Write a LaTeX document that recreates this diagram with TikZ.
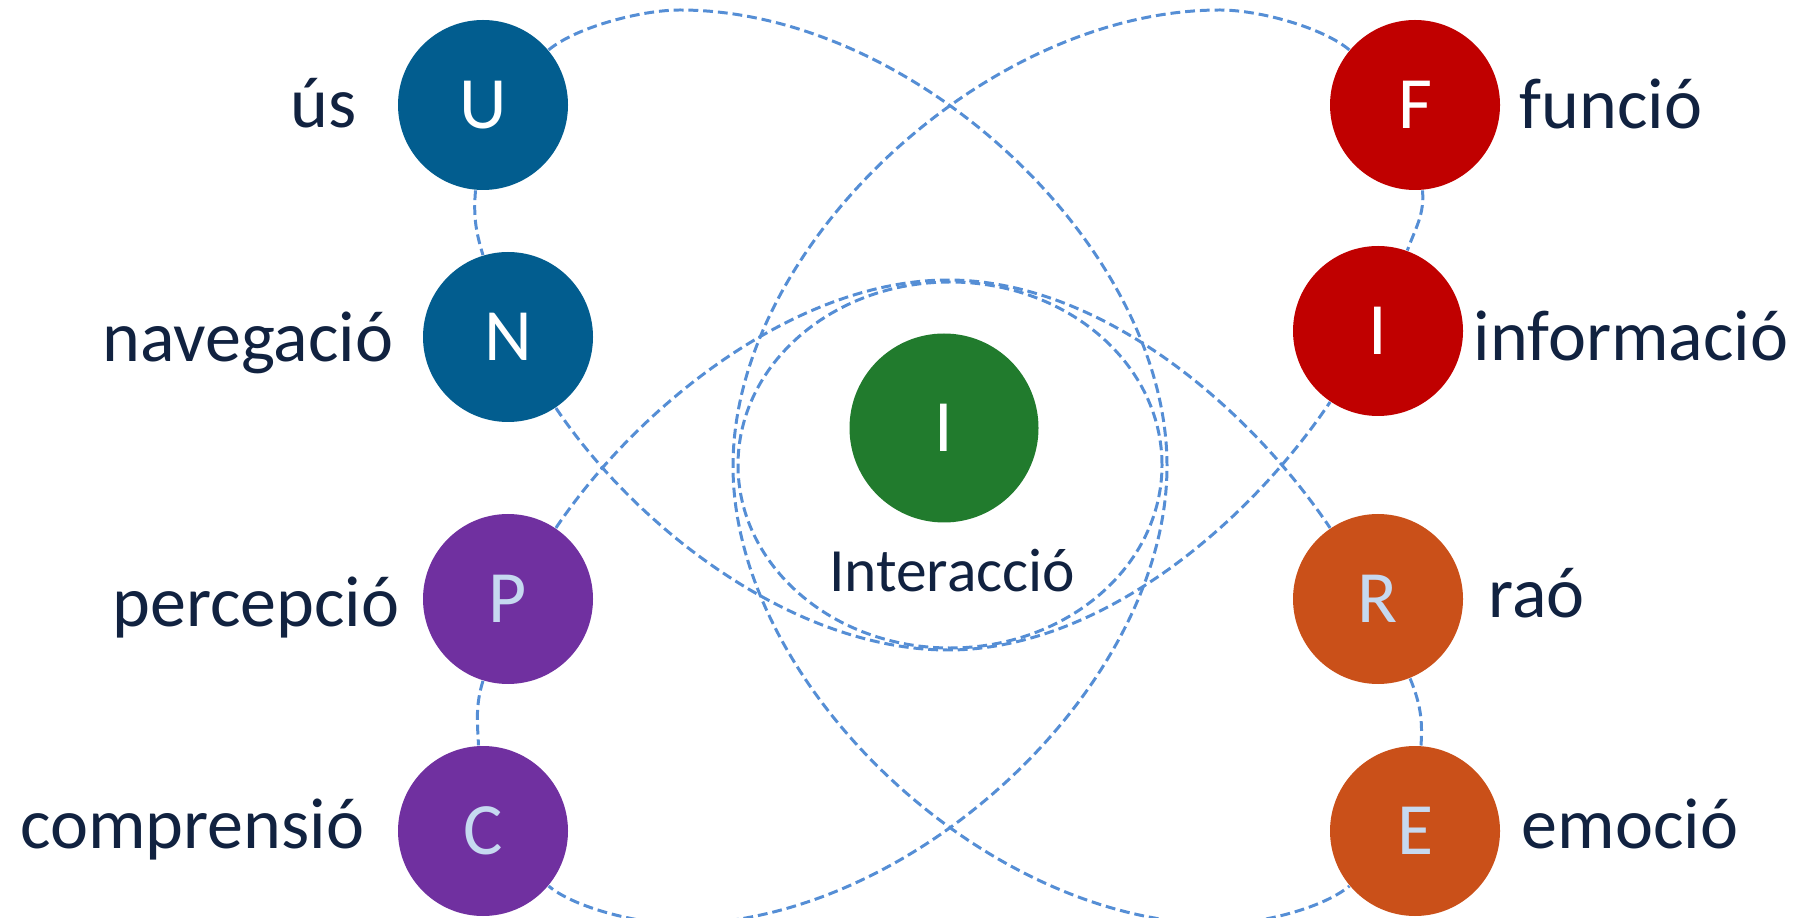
\documentclass[tikz,border=0pt]{standalone}
\usepackage{fontspec}
\setmainfont{Carlito}
\definecolor{usBlue}{HTML}{025D8F}
\definecolor{funcRed}{HTML}{C00000}
\definecolor{percPurple}{HTML}{7030A0}
\definecolor{raoOrange}{HTML}{CA5019}
\definecolor{intGreen}{HTML}{217B2D}
\definecolor{paleBlue}{HTML}{C6D9F0}
\definecolor{orbitBlue}{HTML}{558ED5}
\definecolor{ink}{HTML}{112240}
\begin{document}
\begin{tikzpicture}[x=0.1mm,y=0.1mm,
    ball/.style={circle,minimum size=17mm,inner sep=0pt,font=\fontsize{21}{25}\selectfont},
    lbl/.style={inner sep=0pt,text=ink,font=\fontsize{20.5}{24}\selectfont},
    orbit/.style={draw=orbitBlue,line width=0.85pt,dash pattern=on 2.8pt off 1.4pt}]
\useasboundingbox (0,0) rectangle (1806,917);
\foreach \n/\x/\y/\c/\t in {U/483/812/usBlue/white, N/508/580/usBlue/white,
    P/508/318/percPurple/paleBlue, C/483/86/percPurple/paleBlue,
    F/1415/812/funcRed/white, I/1378/586/funcRed/white,
    R/1378/318/raoOrange/paleBlue, E/1415/86/raoOrange/paleBlue} {
    \node[ball,fill=\c,text=\t] (\n) at (\x,\y) {\n};
}
\node[ball,minimum size=18.9mm,fill=intGreen,text=white] (ctr) at (944,489) {I};
\node[lbl,font=\fontsize{17.5}{21}\selectfont,anchor=base] (ctrTxt) at (952,325) {Interacció};
\foreach \n/\x/\y/\a/\t in {us/357/789/east/ús, nav/394/555/east/navegació,
    perc/400/291/east/percepció, comp/365/69/east/comprensió,
    func/1519/788/west/funció, info/1473/556/west/informació,
    rao/1488/300/west/raó, emo/1521/69/west/emoció} {
    \node[lbl,anchor=base \a] (\n) at (\x,\y) {\t};
}
\coordinate (topA) at (680,907);
\coordinate (rgtA) at (1167,451);
\coordinate (botA) at (680,-7);
\coordinate (topB) at (1220,907);
\coordinate (lftB) at (733,451);
\coordinate (botB) at (1220,-7);
\coordinate (topC) at (948,637);
\coordinate (botD) at (948,267);
\draw[orbit] (950,452) ellipse [x radius=212, y radius=183];
\draw[orbit] (U) .. controls +(40:120) and +(-40,0) .. (topA)
    .. controls +(234,0) and +(0,219) .. (rgtA)
    .. controls +(0,-219) and +(234,0) .. (botA)
    .. controls +(-40,0) and +(-40:120) .. (C);
\draw[orbit] (F) .. controls +(140:120) and +(40,0) .. (topB)
    .. controls +(-234,0) and +(0,219) .. (lftB)
    .. controls +(0,-219) and +(-234,0) .. (botB)
    .. controls +(40,0) and +(-140:120) .. (E);
\draw[orbit] (P) .. controls +(56:236) and +(-150,0) .. (topC)
    .. controls +(150,0) and +(124:236) .. (R);
\draw[orbit] (N) .. controls +(-56:236) and +(-150,0) .. (botD)
    .. controls +(150,0) and +(-124:236) .. (I);
\draw[orbit] (U) to[out=-95,in=107] (N);
\draw[orbit] (P) to[out=-107,in=93] (C);
\draw[orbit] (F) to[out=-85,in=70] (I);
\draw[orbit] (R) to[out=-68,in=86] (E);
\end{tikzpicture}
\end{document}
